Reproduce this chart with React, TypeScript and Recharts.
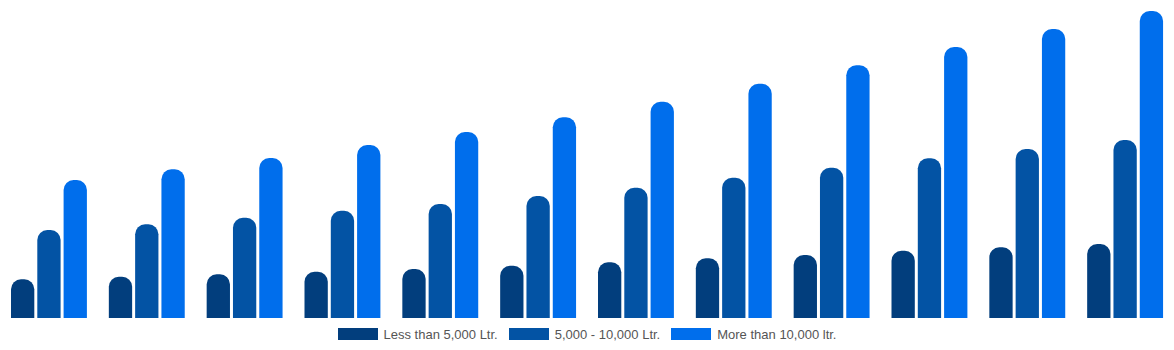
import React from "react";
import { BarChart, Bar, XAxis, YAxis, Legend } from "recharts";

const categories = ["1", "2", "3", "4", "5", "6", "7", "8", "9", "10", "11", "12"];
const lessThan5000 = [38.7, 41.3, 43.7, 46.3, 49, 52.3, 55.7, 59.7, 63, 67.3, 70.7, 74];
const from5000To10000 = [88, 93.7, 100.3, 107.3, 114, 122, 130.3, 140.3, 150.3, 159.7, 169, 178];
const moreThan10000 = [138, 148.7, 160, 173, 186, 200.7, 216.3, 234.3, 252.7, 271, 289, 307];

const seriesNames = ["Less than 5,000 Ltr.", "5,000 - 10,000 Ltr.", "More than 10,000 ltr."];
const colors = ["#023E7D", "#0353A4", "#006EEC"];

const data = categories.map((c, i) => ({
  name: c,
  a: lessThan5000[i],
  b: from5000To10000[i],
  c: moreThan10000[i],
}));

const LegendContent = () => (
  <div
    style={{
      display: "flex",
      justifyContent: "center",
      alignItems: "center",
      height: 32,
      fontFamily: "'Liberation Sans', Arial, Helvetica, sans-serif",
      fontSize: 13,
      color: "#555555",
    }}
  >
    {seriesNames.map((n, i) => (
      <div key={n} style={{ display: "flex", alignItems: "center", marginRight: i < 2 ? 11 : 0 }}>
        <span style={{ display: "inline-block", width: 40, height: 12, background: colors[i], marginRight: 6 }} />
        <span>{n}</span>
      </div>
    ))}
  </div>
);

export default function App() {
  return (
    <div style={{ position: "absolute", left: 0, top: 0 }}>
      <BarChart
        width={1174}
        height={350}
        data={data}
        margin={{ top: 0, right: 0, bottom: 0, left: 0 }}
        barSize={23.3}
        barGap={3}
      >
        <XAxis dataKey="name" hide />
        <YAxis hide domain={[0, 318]} />
        <Legend verticalAlign="bottom" height={32} content={<LegendContent />} />
        <Bar dataKey="a" name={seriesNames[0]} fill={colors[0]} radius={[10, 10, 0, 0]} isAnimationActive={false} />
        <Bar dataKey="b" name={seriesNames[1]} fill={colors[1]} radius={[10, 10, 0, 0]} isAnimationActive={false} />
        <Bar dataKey="c" name={seriesNames[2]} fill={colors[2]} radius={[10, 10, 0, 0]} isAnimationActive={false} />
      </BarChart>
    </div>
  );
}
